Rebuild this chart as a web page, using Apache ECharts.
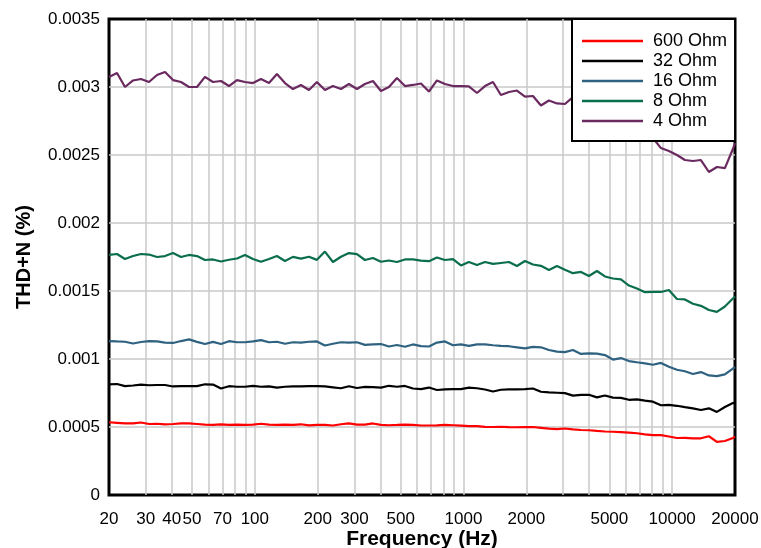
<!DOCTYPE html>
<html>
<head>
<meta charset="utf-8">
<script src="https://cdn.jsdelivr.net/npm/echarts@6/dist/echarts.min.js"></script>
<style>
html,body{margin:0;padding:0;background:#fff;}
#chart{width:761px;height:548px;}
</style>
</head>
<body>
<div id="chart"></div>
<script>
// Frequencies (Hz)
var freqHz = [20, 21.85, 23.86, 26.07, 28.47, 31.10, 33.97, 37.11, 40.53, 44.27,
  48.35, 52.81, 57.68, 63.01, 68.82, 75.16, 82.11, 89.68, 97.95, 107.0,
  116.9, 127.6, 139.4, 152.3, 166.3, 181.7, 198.4, 216.7, 236.7, 258.6,
  282.4, 308.5, 337.0, 368.1, 402.0, 439.1, 479.7, 524.0, 572.3, 625.1,
  682.8, 745.8, 814.6, 889.8, 971.9, 1061, 1160, 1267, 1384, 1511,
  1651, 1803, 1970, 2151, 2350, 2567, 2804, 3062, 3345, 3654,
  3991, 4359, 4761, 5201, 5681, 6205, 6777, 7403, 8086, 8832,
  9645, 10535, 11507, 12570, 13730, 14995, 16380, 17890, 19541, 20000];

var seriesNames = ['600 Ohm', '32 Ohm', '16 Ohm', '8 Ohm', '4 Ohm'];

var thd600 = [0.000535, 0.000531, 0.000527, 0.000526, 0.000533, 0.000522, 0.000524, 0.000520, 0.000522, 0.000526,
  0.000526, 0.000522, 0.000518, 0.000515, 0.000520, 0.000515, 0.000518, 0.000515, 0.000518, 0.000524,
  0.000517, 0.000515, 0.000518, 0.000515, 0.000520, 0.000512, 0.000516, 0.000515, 0.000511, 0.000520,
  0.000527, 0.000518, 0.000518, 0.000526, 0.000516, 0.000513, 0.000515, 0.000518, 0.000515, 0.000511,
  0.000511, 0.000512, 0.000515, 0.000513, 0.000510, 0.000507, 0.000507, 0.000501, 0.000500, 0.000502,
  0.000499, 0.000498, 0.000499, 0.000500, 0.000494, 0.000488, 0.000485, 0.000489, 0.000483, 0.000478,
  0.000476, 0.000471, 0.000467, 0.000465, 0.000462, 0.000459, 0.000454, 0.000446, 0.000440, 0.000440,
  0.000430, 0.000419, 0.000420, 0.000417, 0.000417, 0.000432, 0.000391, 0.000397, 0.000419, 0.000429];

var thd32 = [0.000814, 0.000816, 0.000801, 0.000805, 0.000812, 0.000807, 0.000809, 0.000809, 0.000798, 0.000801,
  0.000801, 0.000801, 0.000814, 0.000812, 0.000783, 0.000800, 0.000796, 0.000796, 0.000803, 0.000796,
  0.000799, 0.000789, 0.000796, 0.000798, 0.000798, 0.000801, 0.000801, 0.000799, 0.000792, 0.000785,
  0.000800, 0.000787, 0.000795, 0.000793, 0.000790, 0.000803, 0.000796, 0.000802, 0.000783, 0.000778,
  0.000790, 0.000772, 0.000777, 0.000779, 0.000779, 0.000789, 0.000785, 0.000776, 0.000761, 0.000774,
  0.000776, 0.000776, 0.000779, 0.000783, 0.000759, 0.000755, 0.000752, 0.000749, 0.000731, 0.000736,
  0.000737, 0.000718, 0.000732, 0.000716, 0.000714, 0.000700, 0.000703, 0.000694, 0.000686, 0.000660,
  0.000662, 0.000656, 0.000646, 0.000637, 0.000625, 0.000637, 0.000611, 0.000647, 0.000676, 0.000680];

var thd16 = [0.001132, 0.001129, 0.001127, 0.001114, 0.001125, 0.001132, 0.001129, 0.001121, 0.001118, 0.001132,
  0.001144, 0.001126, 0.001110, 0.001126, 0.001110, 0.001131, 0.001123, 0.001123, 0.001129, 0.001139,
  0.001123, 0.001127, 0.001112, 0.001123, 0.001121, 0.001127, 0.001129, 0.001099, 0.001112, 0.001123,
  0.001121, 0.001123, 0.001104, 0.001107, 0.001110, 0.001092, 0.001103, 0.001090, 0.001107, 0.001095,
  0.001092, 0.001121, 0.001129, 0.001101, 0.001107, 0.001096, 0.001107, 0.001107, 0.001101, 0.001096,
  0.001094, 0.001086, 0.001078, 0.001089, 0.001086, 0.001066, 0.001054, 0.001051, 0.001066, 0.001037,
  0.001041, 0.001040, 0.001029, 0.000996, 0.001007, 0.000985, 0.000976, 0.000968, 0.000958, 0.000971,
  0.000943, 0.000921, 0.000910, 0.000890, 0.000904, 0.000879, 0.000874, 0.000887, 0.000930, 0.000941];

var thd8 = [0.001765, 0.001772, 0.001735, 0.001757, 0.001772, 0.001768, 0.001750, 0.001757, 0.001779, 0.001750,
  0.001765, 0.001757, 0.001728, 0.001732, 0.001717, 0.001730, 0.001739, 0.001765, 0.001735, 0.001715,
  0.001735, 0.001757, 0.001721, 0.001751, 0.001738, 0.001752, 0.001729, 0.001790, 0.001713, 0.001752,
  0.001779, 0.001771, 0.001728, 0.001743, 0.001715, 0.001724, 0.001713, 0.001732, 0.001732, 0.001724,
  0.001719, 0.001746, 0.001728, 0.001735, 0.001688, 0.001713, 0.001691, 0.001713, 0.001699, 0.001706,
  0.001713, 0.001684, 0.001721, 0.001695, 0.001685, 0.001654, 0.001684, 0.001656, 0.001631, 0.001640,
  0.001610, 0.001647, 0.001607, 0.001592, 0.001585, 0.001540, 0.001518, 0.001491, 0.001493, 0.001493,
  0.001507, 0.001441, 0.001438, 0.001406, 0.001391, 0.001360, 0.001346, 0.001386, 0.001445, 0.001460];

var thd4 = [0.003074, 0.003103, 0.003000, 0.003048, 0.003059, 0.003037, 0.003088, 0.003110, 0.003051, 0.003037,
  0.003000, 0.003000, 0.003074, 0.003037, 0.003044, 0.003007, 0.003051, 0.003037, 0.003029, 0.003059,
  0.003029, 0.003096, 0.003029, 0.002985, 0.003015, 0.002978, 0.003037, 0.002978, 0.003007, 0.002985,
  0.003022, 0.002985, 0.003022, 0.003044, 0.002971, 0.003000, 0.003066, 0.003007, 0.003015, 0.003026,
  0.002967, 0.003048, 0.003022, 0.003007, 0.003007, 0.003004, 0.002956, 0.003007, 0.003037, 0.002941,
  0.002963, 0.002974, 0.002929, 0.002934, 0.002864, 0.002901, 0.002879, 0.002875, 0.002926, 0.002912,
  0.002890, 0.002830, 0.002850, 0.002780, 0.002760, 0.002720, 0.002690, 0.002640, 0.002625, 0.002551,
  0.002529, 0.002500, 0.002463, 0.002456, 0.002463, 0.002375, 0.002412, 0.002404, 0.002544, 0.002588];

var xGridValues = [20, 30, 40, 50, 60, 70, 80, 90, 100, 200, 300, 400, 500, 600, 700, 800, 900,
  1000, 2000, 3000, 4000, 5000, 6000, 7000, 8000, 9000, 10000, 20000];
var xTickLabels = [20, 30, 40, 50, 70, 100, 200, 300, 500, 1000, 2000, 5000, 10000, 20000];
var yTickLabels = [0, 0.0005, 0.001, 0.0015, 0.002, 0.0025, 0.003, 0.0035];

var colors = ['#ff0000', '#000000', '#2e6280', '#0a6e4b', '#6a295f'];
var allValues = [thd600, thd32, thd16, thd8, thd4];

var FONT = '"Liberation Sans", Arial, Helvetica, sans-serif';

var chart = echarts.init(document.getElementById('chart'), null, {renderer: 'canvas'});

var series = seriesNames.map(function (name, i) {
  return {
    name: name,
    type: 'line',
    symbol: 'none',
    showSymbol: false,
    data: freqHz.map(function (f, j) { return [f, allValues[i][j]]; }),
    lineStyle: {color: colors[i], width: 2.2},
    itemStyle: {color: colors[i]},
    z: 2
  };
});

chart.setOption({
  animation: false,
  backgroundColor: '#ffffff',
  textStyle: {fontFamily: FONT},
  grid: {
    left: 109, right: 26, top: 19, bottom: 53,
    containLabel: false,
    outerBoundsMode: 'none',
    show: true, borderColor: '#000', borderWidth: 3, backgroundColor: 'transparent'
  },
  legend: {
    data: seriesNames,
    orient: 'vertical',
    left: 572,
    top: 19,
    z: 20,
    icon: 'rect',
    itemWidth: 61,
    itemHeight: 2.5,
    itemGap: 2,
    padding: [13, 8, 11, 10],
    backgroundColor: '#fff',
    borderColor: '#000',
    borderWidth: 2,
    textStyle: {fontSize: 18, color: '#000', fontFamily: FONT, padding: [0, 0, 0, 5]}
  },
  xAxis: {
    type: 'log',
    logBase: 10,
    min: 20,
    max: 20000,
    name: 'Frequency (Hz)',
    nameLocation: 'middle',
    nameGap: 34,
    nameMoveOverlap: false,
    nameTextStyle: {fontSize: 21, fontWeight: 'bold', color: '#000', fontFamily: FONT},
    axisLine: {show: false},
    axisTick: {show: false, customValues: xGridValues},
    splitLine: {show: true, showMinLine: false, showMaxLine: false, lineStyle: {color: '#c8c8c8', width: 1.5}},
    axisLabel: {
      customValues: xTickLabels,
      interval: 0,
      fontSize: 17,
      color: '#000',
      margin: 16,
      hideOverlap: false,
      formatter: function (v) { return String(Math.round(v)); }
    }
  },
  yAxis: {
    type: 'value',
    min: 0,
    max: 0.0035,
    interval: 0.0005,
    name: 'THD+N (%)',
    nameLocation: 'middle',
    nameGap: 75,
    nameRotate: 90,
    nameMoveOverlap: false,
    nameTextStyle: {fontSize: 20, fontWeight: 'bold', color: '#000', fontFamily: FONT},
    axisLine: {show: false},
    axisTick: {show: false},
    splitLine: {show: true, showMinLine: false, showMaxLine: false, lineStyle: {color: '#c8c8c8', width: 1.5}},
    axisLabel: {
      fontSize: 17,
      color: '#000',
      margin: 9,
      formatter: function (v) {
        var r = Math.round(v * 1e6) / 1e6;
        for (var i = 0; i < yTickLabels.length; i++) {
          if (Math.abs(yTickLabels[i] - r) < 1e-9) return String(yTickLabels[i]);
        }
        return String(r);
      }
    }
  },
  series: series
});
</script>
</body>
</html>
